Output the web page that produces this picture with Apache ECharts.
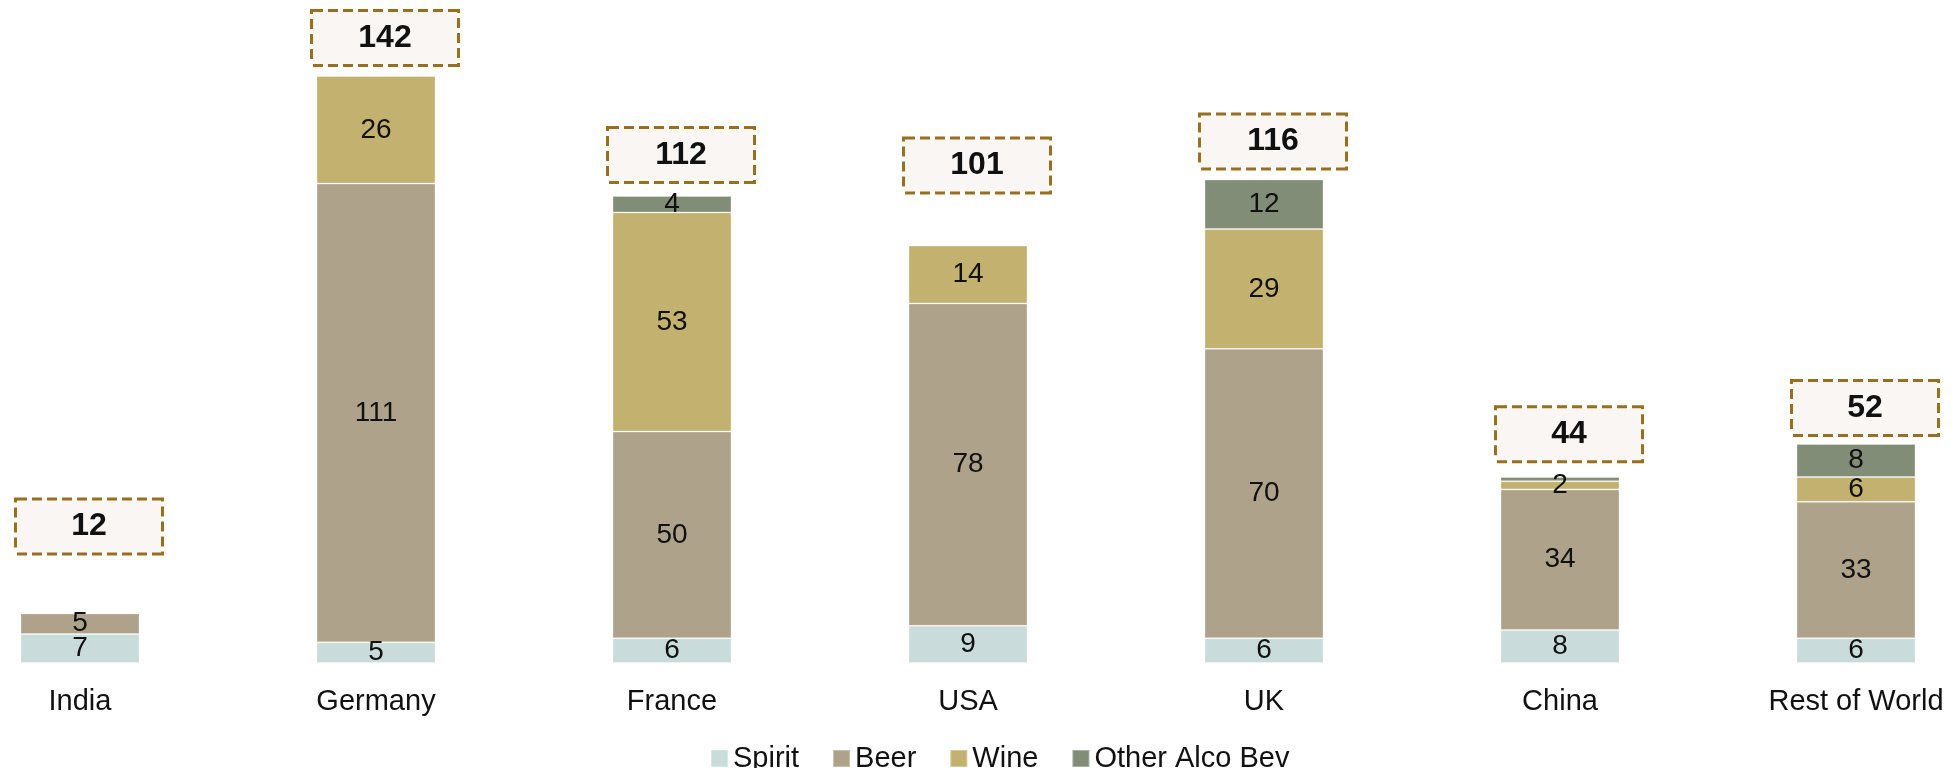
<!DOCTYPE html>
<html>
<head>
<meta charset="utf-8">
<script src="https://cdn.jsdelivr.net/npm/echarts@6/dist/echarts.min.js"></script>
<style>
  html, body { margin: 0; padding: 0; background: #ffffff; overflow: hidden; }
  /* the plot runs slightly past both window edges */
  #chart { width: 2072px; height: 768px; margin-left: -68px; }
</style>
</head>
<body>
<div id="chart"></div>
<script>
// Alcohol consumption by beverage type, per market
const categories = ['India', 'Germany', 'France', 'USA', 'UK', 'China', 'Rest of World'];
const spirit = [7, 5, 6, 9, 6, 8, 6];
const beer   = [5, 111, 50, 78, 70, 34, 33];
const wine   = [null, 26, 53, 14, 29, 2, 6];
const other  = [null, null, 4, null, 12, 1, 8];
const totals = [12, 142, 112, 101, 116, 44, 52];

// space (px) between each bar top and its total callout
const calloutGap = [61, 12, 19, 54, 16, 21, 14];

const FONT = '"Liberation Sans", Arial, sans-serif';
const colors = {
  Spirit: '#c9dcdb',
  Beer: '#aea28a',
  Wine: '#c3b16f',
  'Other Alco Bev': '#818d77'
};

function segment(name, data, minLabel) {
  return {
    name: name,
    type: 'bar',
    stack: 'total',
    data: data,
    barWidth: 119,
    barGap: '-100%',
    itemStyle: {
      color: colors[name],
      borderColor: 'rgba(255,255,255,0.3)',
      borderWidth: 1
    },
    label: {
      show: true,
      position: 'inside',
      color: '#111',
      fontFamily: FONT,
      fontSize: 28,
      formatter: p => (p.value >= minLabel ? String(p.value) : '')
    },
    emphasis: { disabled: true }
  };
}

const chart = echarts.init(document.getElementById('chart'), null, { renderer: 'canvas' });

chart.setOption({
  animation: false,
  backgroundColor: '#ffffff',
  grid: { left: 0, right: 0, top: 43, bottom: 105, containLabel: false },
  xAxis: {
    type: 'category',
    data: categories,
    axisLine: { show: false },
    axisTick: { show: false },
    axisLabel: {
      color: '#111',
      fontFamily: FONT,
      fontSize: 29,
      margin: 24
    }
  },
  yAxis: {
    type: 'value',
    min: 0,
    max: 150,
    show: false,
    splitLine: { show: false }
  },
  legend: {
    data: ['Spirit', 'Beer', 'Wine', 'Other Alco Bev'],
    left: 705 + 68,
    top: 739,
    icon: 'rect',
    itemWidth: 17,
    itemHeight: 17,
    itemGap: 33,
    textStyle: {
      color: '#111',
      fontFamily: FONT,
      fontSize: 29
    }
  },
  series: [
    segment('Spirit', spirit, 2),
    segment('Beer', beer, 2),
    segment('Wine', wine, 2),
    segment('Other Alco Bev', other, 2),
    {
      name: 'Total',
      type: 'bar',
      barWidth: 119,
      barGap: '-100%',
      z: 5,
      silent: true,
      itemStyle: { color: 'rgba(0,0,0,0)' },
      data: totals.map((v, i) => ({ value: v, label: { distance: calloutGap[i] } })),
      label: {
        show: true,
        position: 'top',
        offset: [9, 0],
        color: '#111',
        fontFamily: FONT,
        fontSize: 32,
        fontWeight: 'bold',
        width: 144,
        height: 52,
        lineHeight: 52,
        align: 'center',
        backgroundColor: '#faf6f3',
        borderColor: '#986f1e',
        borderWidth: 3,
        borderType: [10, 5],
        padding: 0
      },
      emphasis: { disabled: true }
    }
  ]
});
</script>
</body>
</html>
